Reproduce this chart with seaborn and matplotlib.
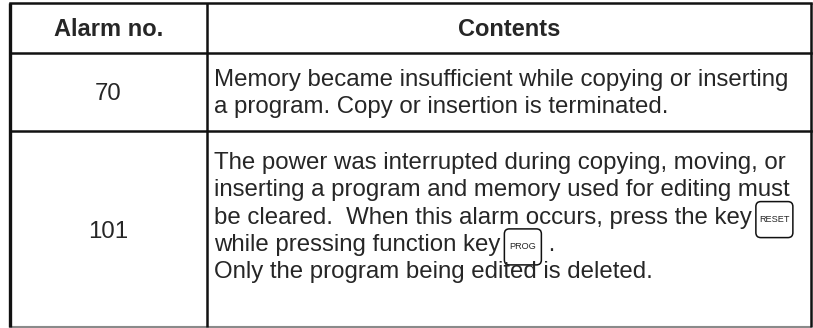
import matplotlib
matplotlib.use("Agg")
import matplotlib.pyplot as plt
import seaborn as sns
from matplotlib.patches import FancyBboxPatch

# Table data
col_headers = ["Alarm no.", "Contents"]
alarm_numbers = ["70", "101"]
row1_lines = ["Memory became insufficient while copying or inserting",
              "a program. Copy or insertion is terminated."]
row2_lines = ["The power was interrupted during copying, moving, or",
              "inserting a program and memory used for editing must",
              "be cleared.  When this alarm occurs, press the key",
              "while pressing function key",
              "Only the program being edited is deleted."]
# keys drawn as small boxes: (line index in row 2, key label, text after it)
key_marks = [(2, "RESET", ""), (3, "PROG", " .")]

sns.set_theme(style="white")
plt.rcParams['font.family'] = ['Liberation Sans', 'DejaVu Sans']

W, H = 813, 328
fig = plt.figure(figsize=(W / 100, H / 100), dpi=100)
ax = fig.add_axes([0, 0, 1, 1])
ax.set_xlim(0, W)
ax.set_ylim(H, 0)
ax.axis("off")

# grid lines
x_left, x_div, x_right = 10, 207, 811
y_top, y_head, y_row, y_bot = 3, 53, 131, 327
lc = "#111111"
for y in (y_top, y_head, y_row):
    ax.plot([x_left, x_right], [y, y], color=lc, lw=1.8, solid_capstyle="projecting")
ax.plot([x_left, x_right], [y_bot, y_bot], color="#8a8a8a", lw=1.5)
ax.plot([x_left, x_left], [y_top, y_bot], color=lc, lw=2.4, solid_capstyle="butt")
for x in (x_div, x_right):
    ax.plot([x, x], [y_top, y_bot], color=lc, lw=1.8, solid_capstyle="butt")

fs = 17.3
c1 = (x_left + x_div) / 2
c2 = (x_div + x_right) / 2
ax.text(c1, 29, col_headers[0], ha="center", va="center", fontsize=17, fontweight="bold")
ax.text(c2, 29, col_headers[1], ha="center", va="center", fontsize=17, fontweight="bold")

ax.text(c1, 94, alarm_numbers[0], ha="center", va="center", fontsize=fs)
ax.text(c1, 232, alarm_numbers[1], ha="center", va="center", fontsize=fs)

tx = 214
lh = 27.3
for i, line in enumerate(row1_lines):
    ax.text(tx, 80 + i * lh, line, ha="left", va="center", fontsize=fs)

texts = []
for i, line in enumerate(row2_lines):
    t = ax.text(tx, 163 + i * lh, line, ha="left", va="center", fontsize=fs)
    texts.append(t)

# place the key boxes right after the text of their line
fig.canvas.draw()
renderer = fig.canvas.get_renderer()
inv = ax.transData.inverted()
for idx, label, after in key_marks:
    bb = texts[idx].get_window_extent(renderer)
    x_end = inv.transform((bb.x1, bb.y0))[0]
    yc = 163 + idx * lh + 2
    bw, bh = 37, 36
    bx = x_end + 4
    box = FancyBboxPatch((bx, yc - bh / 2), bw, bh,
                         boxstyle="round,pad=0,rounding_size=5",
                         fc="white", ec=lc, lw=1.1)
    ax.add_patch(box)
    ax.text(bx + bw / 2, yc, label, ha="center", va="center", fontsize=6.6)
    if after:
        ax.text(bx + bw + 1, 163 + idx * lh, after, ha="left", va="center", fontsize=fs)

fig.savefig("out.png", dpi=100)
